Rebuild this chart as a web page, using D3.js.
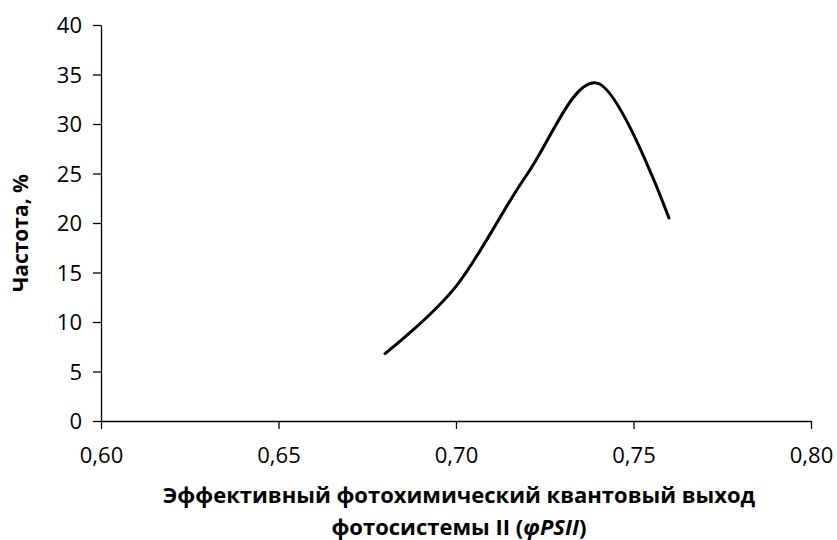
<!DOCTYPE html>
<html>
<head>
<meta charset="utf-8">
<script src="https://cdn.jsdelivr.net/npm/d3@7"></script>
<style>
  body { margin: 0; background: #fff; }
  svg text { font-family: "Open Sans", "Noto Sans", sans-serif; fill: #000; }
</style>
</head>
<body>
<svg id="chart" width="837" height="540"></svg>
<script>
// Quantum yield classes (φPSII) and their frequency, %
const yieldValues = [0.68, 0.70, 0.72, 0.74, 0.76];
const frequency   = [6.8, 13.6, 24.9, 34.1, 20.5];
const xTicks = [0.60, 0.65, 0.70, 0.75, 0.80];
const yTicks = [0, 5, 10, 15, 20, 25, 30, 35, 40];

const svg = d3.select("#chart");
const margin = { left: 101, right: 26, top: 25, bottom: 119 };
const W = 837, H = 540;

const x = d3.scaleLinear().domain([0.60, 0.80]).range([margin.left, W - margin.right]);
const y = d3.scaleLinear().domain([0, 40]).range([H - margin.bottom, margin.top]);

const fmt = d => d3.format(".2f")(d).replace(".", ",");

// X axis
const gx = svg.append("g")
  .attr("transform", `translate(0,${y(0)})`)
  .call(d3.axisBottom(x).tickValues(xTicks).tickFormat(fmt).tickSize(8).tickSizeOuter(0));
// Y axis
const gy = svg.append("g")
  .attr("transform", `translate(${x(0.60)},0)`)
  .call(d3.axisLeft(y).tickValues(yTicks).tickSize(8).tickSizeOuter(0));

[gx, gy].forEach(g => {
  g.attr("font-size", null).attr("font-family", null);
  g.select(".domain").attr("stroke", "#000").attr("stroke-width", 1.3);
  g.selectAll(".tick line").attr("stroke", "#000").attr("stroke-width", 1.3);
  g.selectAll(".tick text").style("font-size", "22px").attr("fill", "#000");
});
gx.selectAll(".tick text").attr("y", 42).attr("dy", 0);
gy.selectAll(".tick text").attr("x", -19).attr("dy", "0.36em");

// Smoothed frequency curve
const pts = yieldValues.map((v, i) => [v, frequency[i]]);
svg.append("path")
  .datum(pts)
  .attr("fill", "none")
  .attr("stroke", "#000")
  .attr("stroke-width", 3)
  .attr("stroke-linecap", "round")
  .attr("d", d3.line().x(d => x(d[0])).y(d => y(d[1])).curve(d3.curveCardinal.tension(0)));

// Axis titles
svg.append("text")
  .attr("x", 459)
  .attr("y", 503)
  .attr("text-anchor", "middle")
  .style("font-size", "22px")
  .attr("font-weight", "bold")
  .text("Эффективный фотохимический квантовый выход");

const xt2 = svg.append("text")
  .attr("x", 459)
  .attr("y", 535)
  .attr("text-anchor", "middle")
  .style("font-size", "22px")
  .attr("font-weight", "bold");
xt2.append("tspan").text("фотосистемы II (");
xt2.append("tspan").attr("font-style", "italic").text("φPSII");
xt2.append("tspan").text(")");

svg.append("text")
  .attr("transform", `translate(28,233) rotate(-90)`)
  .attr("text-anchor", "middle")
  .style("font-size", "21px")
  .attr("font-weight", "bold")
  .text("Частота, %");
</script>
</body>
</html>
